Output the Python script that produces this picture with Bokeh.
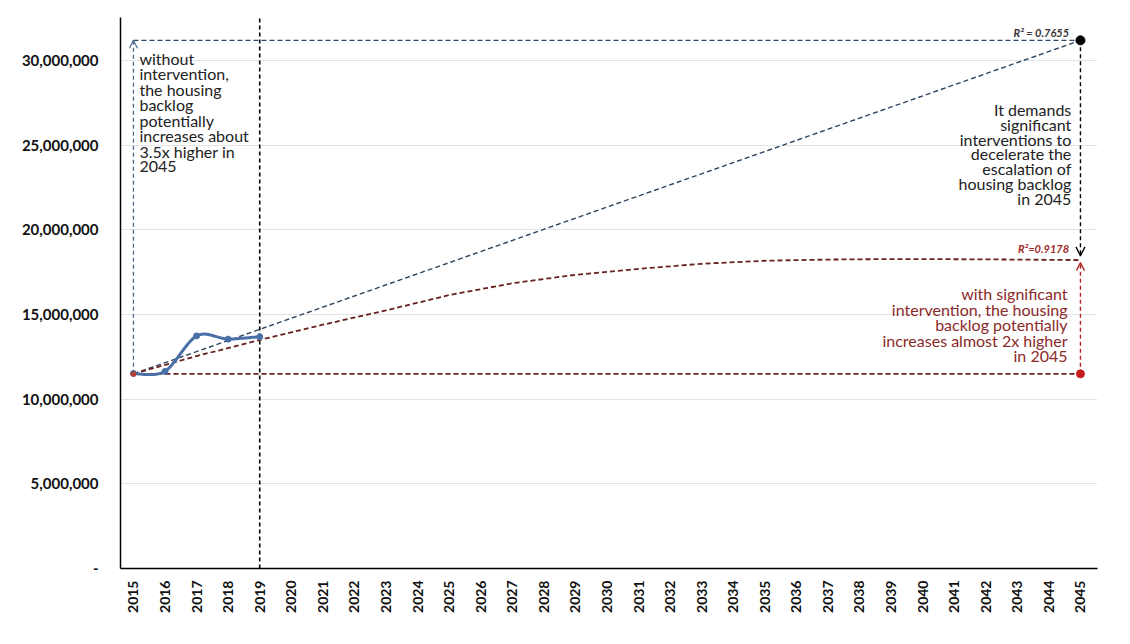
import numpy as np
from bokeh.plotting import figure
from bokeh.models import Range1d, FixedTicker, Label, Arrow, OpenHead
from bokeh.embed import file_html
from bokeh.resources import INLINE

# ---------------- data ----------------
years = list(range(2015, 2046))
y_ticks = [0, 5_000_000, 10_000_000, 15_000_000, 20_000_000, 25_000_000, 30_000_000]
y_tick_labels = ["-", "5,000,000", "10,000,000", "15,000,000", "20,000,000", "25,000,000", "30,000,000"]

obs_years = [2015, 2016, 2017, 2018, 2019]
obs_backlog = [11_520_000, 11_640_000, 13_740_000, 13_550_000, 13_690_000]

linear_trend_years = [2015, 2045]
linear_trend_vals = [11_500_000, 31_200_000]
linear_r2 = "R\u00b2 = 0.7655"

poly_trend_years = [2015, 2017, 2019, 2021, 2023, 2025, 2027, 2029, 2031, 2033, 2035, 2037, 2039, 2041, 2043, 2045]
poly_trend_vals = [11_500_000, 12_550_000, 13_500_000, 14_400_000, 15_250_000, 16_150_000, 16_850_000,
                   17_350_000, 17_700_000, 18_000_000, 18_180_000, 18_250_000, 18_280_000, 18_270_000,
                   18_250_000, 18_220_000]
poly_r2 = "R\u00b2=0.9178"

baseline = 11_500_000
marker_year = 2019

left_note = ["without", "intervention,", "the housing", "backlog", "potentially",
             "increases about", "3.5x higher in", "2045"]
right_note = ["It demands", "significant", "interventions to", "decelerate the",
              "escalation of", "housing backlog", "in 2045"]
red_note = ["with significant", "intervention, the housing", "backlog potentially",
            "increases almost 2x higher", "in 2045"]

FONT = "Lato"

# ---------------- figure ----------------
p = figure(width=1110, height=630, output_backend="svg", toolbar_location=None,
           x_range=Range1d(2014.59, 2045.54), y_range=Range1d(0, 32_550_000),
           min_border_left=120, min_border_right=13, min_border_top=17, min_border_bottom=62)
p.outline_line_color = None
p.background_fill_color = "white"
p.border_fill_color = "white"
p.xgrid.grid_line_color = None
p.ygrid.grid_line_color = "#e3e3e3"
p.ygrid.grid_line_width = 1

p.xaxis.ticker = FixedTicker(ticks=years)
p.xaxis.major_label_orientation = np.pi / 2
p.yaxis.ticker = FixedTicker(ticks=y_ticks)
p.yaxis.major_label_overrides = {t: l for t, l in zip(y_ticks, y_tick_labels)}
for ax in (p.xaxis[0], p.yaxis[0]):
    ax.axis_line_color = "black"
    ax.axis_line_width = 1.5
    ax.major_tick_line_color = None
    ax.minor_tick_line_color = None
    ax.major_tick_out = 0
    ax.major_tick_in = 0
    ax.major_label_text_font = FONT
    ax.major_label_text_font_style = "bold"
    ax.major_label_text_color = "#111111"
p.xaxis.major_label_text_font_size = "14px"
p.yaxis.major_label_text_font_size = "15px"
p.xaxis.major_label_standoff = 12
p.yaxis.major_label_standoff = 22

# vertical 2019 divider
p.line([marker_year, marker_year], [0, 32_550_000], line_color="black", line_width=1.6, line_dash="4 3")

# horizontal helper lines
p.line([2015, 2045], [linear_trend_vals[1], linear_trend_vals[1]], line_color="#2d4660", line_width=1.4, line_dash="5 3")
p.line([2015, 2045], [baseline, baseline], line_color="#6a1f1f", line_width=1.6, line_dash="5 3")

# trend lines
p.line(linear_trend_years, linear_trend_vals, line_color="#2d4660", line_width=1.4, line_dash="5 3")
p.line(poly_trend_years, poly_trend_vals, line_color="#6a1f1f", line_width=1.8, line_dash="5 3")

# arrows
p.add_layout(Arrow(end=OpenHead(size=8, line_color="#4a6a90", line_width=1.2),
                   x_start=2015, y_start=baseline, x_end=2015, y_end=linear_trend_vals[1],
                   line_color="#4a6a90", line_width=1.3, line_dash="4 3"))
p.add_layout(Arrow(end=OpenHead(size=9, line_color="black", line_width=1.3),
                   x_start=2045, y_start=linear_trend_vals[1], x_end=2045, y_end=poly_trend_vals[-1] + 250_000,
                   line_color="black", line_width=1.4, line_dash="4 3"))
p.add_layout(Arrow(end=OpenHead(size=8, line_color="#b22222", line_width=1.3),
                   x_start=2045, y_start=baseline, x_end=2045, y_end=poly_trend_vals[-1] - 150_000,
                   line_color="#b22222", line_width=1.4, line_dash="4 3"))

# smoothed observed series (Catmull-Rom style bezier, like a spreadsheet smoothed line)
xs = np.array(obs_years, dtype=float)
ys = np.array(obs_backlog, dtype=float)
n = len(xs)
x0, y0, x1, y1, cx0, cy0, cx1, cy1 = [], [], [], [], [], [], [], []
for i in range(n - 1):
    pm = i - 1 if i > 0 else i
    pp = i + 2 if i + 2 < n else i + 1
    x0.append(xs[i]); y0.append(ys[i]); x1.append(xs[i + 1]); y1.append(ys[i + 1])
    cx0.append(xs[i] + (xs[i + 1] - xs[pm]) / 6); cy0.append(ys[i] + (ys[i + 1] - ys[pm]) / 6)
    cx1.append(xs[i + 1] - (xs[pp] - xs[i]) / 6); cy1.append(ys[i + 1] - (ys[pp] - ys[i]) / 6)
p.bezier(x0=x0, y0=y0, x1=x1, y1=y1, cx0=cx0, cy0=cy0, cx1=cx1, cy1=cy1,
         line_color="#4a70a8", line_width=3)
p.scatter(obs_years, obs_backlog, size=6, color="#4a70a8")
p.scatter([2015], [baseline], size=5, color="#c0392b")

# end points
p.scatter([2045], [linear_trend_vals[1]], size=9, color="black")
p.scatter([2045], [baseline], size=8, color="#c81e1e")


def note(lines, x, y, align, color, spacing):
    for i, t in enumerate(lines):
        p.add_layout(Label(x=x, y=y, y_offset=-i * spacing, text=t, text_font=FONT,
                           text_font_size="16px", text_color=color, text_align=align,
                           text_baseline="middle"))


note(left_note, 2015.19, 30_150_000, "left", "#222222", 15.5)
note(right_note, 2044.71, 27_130_000, "right", "#222222", 14.9)
note(red_note, 2044.59, 16_230_000, "right", "#8b2a2a", 15.5)

p.add_layout(Label(x=2044.64, y=31_660_000, text=linear_r2, text_font=FONT, text_font_size="11px",
                   text_font_style="bold italic", text_color="#333333", text_align="right", text_baseline="middle"))
p.add_layout(Label(x=2044.64, y=18_880_000, text=poly_r2, text_font=FONT, text_font_size="11px",
                   text_font_style="bold italic", text_color="#a32a2a", text_align="right", text_baseline="middle"))

open("out.html", "w").write(file_html(p, INLINE))
